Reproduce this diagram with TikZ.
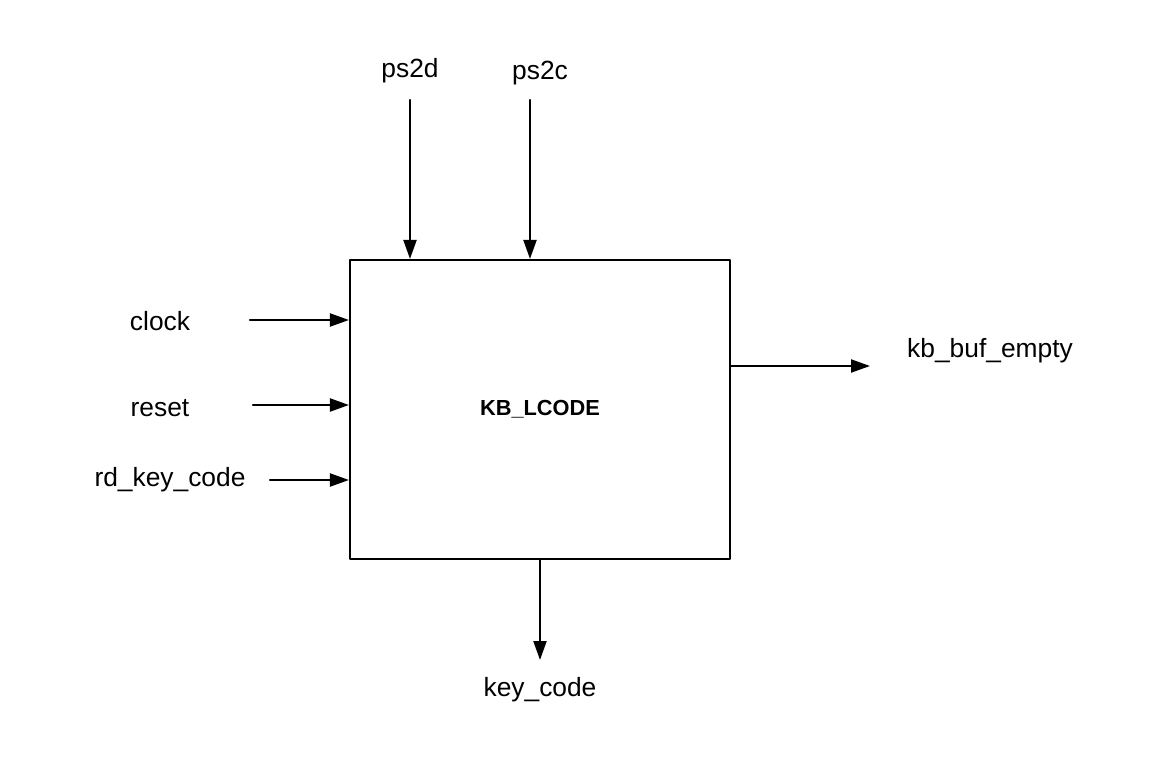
\documentclass[tikz,border=0pt]{standalone}
\usepackage{fontspec}
\setmainfont{Liberation Sans}
\usetikzlibrary{arrows.meta}

\begin{document}
\begin{tikzpicture}[line cap=round,line join=round,
    port/.style={line width=1.2pt,-{Triangle[length=3.8mm,width=2.6mm]}},
    lbl/.style={font=\fontsize{15}{18}\selectfont}]
  \useasboundingbox (0,0) rectangle (23,15.2);
  \node[draw, line width=1.2pt, inner sep=0pt, minimum width=7.6cm,
        minimum height=5.98cm, font=\fontsize{12.4}{15}\selectfont\bfseries]
        (kb) at (10.8,7.01) {KB\_LCODE};
  % top inputs
  \node[lbl] (ps2d) at (8.2,13.78) {ps2d};
  \node[lbl] (ps2c) at (10.8,13.74) {ps2c};
  \coordinate (d0) at (8.2,13.2);
  \coordinate (c0) at (10.6,13.2);
  \draw[port] (d0) -- (d0 |- kb.north);
  \draw[port] (c0) -- (c0 |- kb.north);
  % left inputs
  \node[lbl] (clock) at (3.2,8.78) {clock};
  \node[lbl] (reset) at (3.2,7.04) {reset};
  \node[lbl] (rdkey) at (3.4,5.6) {rd\_key\_code};
  \coordinate (k0) at (5.0,8.8);
  \coordinate (r0) at (5.06,7.1);
  \coordinate (q0) at (5.4,5.6);
  \draw[port] (k0) -- (k0 -| kb.west);
  \draw[port] (r0) -- (r0 -| kb.west);
  \draw[port] (q0) -- (q0 -| kb.west);
  % outputs
  \node[lbl] (empty) at (19.8,8.18) {kb\_buf\_empty};
  \coordinate (e1) at (17.4,7.88);
  \draw[port] (e1 -| kb.east) -- (e1);
  \node[lbl] (code) at (10.8,1.4) {key\_code};
  \coordinate (o1) at (10.8,2.0);
  \draw[port] (kb.south) -- (o1);
\end{tikzpicture}
\end{document}
